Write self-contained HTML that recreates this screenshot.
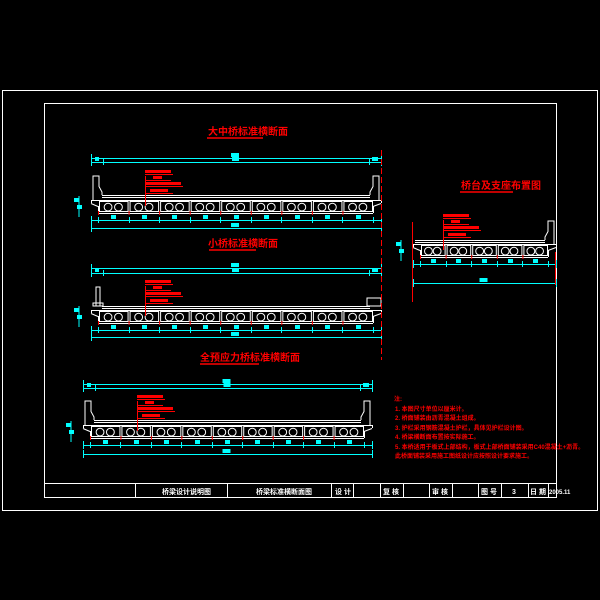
<!DOCTYPE html>
<html><head><meta charset="utf-8"><style>
html,body{margin:0;padding:0;background:#000;width:600px;height:600px;overflow:hidden}
svg{display:block}
text{font-family:"Liberation Sans","Noto Sans CJK SC",sans-serif;font-weight:bold}
</style></head><body>
<svg id="s" width="600" height="600" viewBox="0 0 600 600" xmlns="http://www.w3.org/2000/svg">
<rect width="600" height="600" fill="#000"/>
<g fill="none" stroke="#fff" stroke-width="1">
<rect x="2.5" y="90.5" width="595" height="420"/>
<rect x="44.5" y="103.5" width="512" height="394"/>
<line x1="44" y1="483.5" x2="556" y2="483.5"/>
<line x1="135.5" y1="483" x2="135.5" y2="497"/>
<line x1="227.5" y1="483" x2="227.5" y2="497"/>
<line x1="331.5" y1="483" x2="331.5" y2="497"/>
<line x1="353.5" y1="483" x2="353.5" y2="497"/>
<line x1="380.5" y1="483" x2="380.5" y2="497"/>
<line x1="403.5" y1="483" x2="403.5" y2="497"/>
<line x1="429.5" y1="483" x2="429.5" y2="497"/>
<line x1="452.5" y1="483" x2="452.5" y2="497"/>
<line x1="478.5" y1="483" x2="478.5" y2="497"/>
<line x1="501.5" y1="483" x2="501.5" y2="497"/>
<line x1="528.5" y1="483" x2="528.5" y2="497"/>
<line x1="548.5" y1="483" x2="548.5" y2="497"/>
</g>
<g fill="#fff" font-size="7">
<text x="162" y="494">桥梁设计说明图</text>
<text x="256" y="494">桥梁标准横断面图</text>
<text x="335" y="494">设 计</text>
<text x="383" y="494">复 核</text>
<text x="432" y="494">审 核</text>
<text x="481" y="494">图 号</text>
<text x="512" y="494">3</text>
<text x="530" y="494">日 期</text>
<text x="549" y="494" font-size="6">2005.11</text>
</g>
<g id="g"></g>
<g fill="#f00" font-size="9">
<text x="208" y="135" font-size="10">大中桥标准横断面</text>
<text x="208" y="247" font-size="10">小桥标准横断面</text>
<text x="200" y="361" font-size="10">全预应力桥标准横断面</text>
<text x="461" y="189" font-size="10">桥台及支座布置图</text>
</g>
<g stroke="#f00" stroke-width="1.5">
<line x1="207" y1="138" x2="263" y2="138"/>
<line x1="209" y1="250" x2="256" y2="250"/>
<line x1="200" y1="364" x2="259" y2="364"/>
<line x1="460" y1="192" x2="513" y2="192"/>
</g>
<g stroke="#f00" stroke-width="1">
<line x1="381.5" y1="150" x2="381.5" y2="360" stroke-dasharray="6,3"/>
<line x1="412.5" y1="222" x2="412.5" y2="302"/>
<line x1="555.5" y1="252" x2="555.5" y2="285"/>
</g>
<g fill="#f00" font-size="6">
<text x="394" y="401">注:</text>
<text x="395" y="411">1. 本图尺寸单位以厘米计。</text>
<text x="395" y="420">2. 桥面铺装由沥青混凝土组成。</text>
<text x="395" y="430">3. 护栏采用钢筋混凝土护栏，具体见护栏设计图。</text>
<text x="395" y="439">4. 桥梁横断面布置按实际施工。</text>
<text x="395" y="449">5. 本桥适用于板式上部结构，板式上部桥面铺装采用C40混凝土+沥青。</text>
<text x="395" y="458">此桥面铺装采用施工图纸设计应按照设计要求施工。</text>
</g>
</svg>
<script>
var g=document.getElementById('g'),NS='http://www.w3.org/2000/svg';
function el(t,a){var e=document.createElementNS(NS,t);for(var k in a)e.setAttribute(k,a[k]);g.appendChild(e);return e;}
function L(x1,y1,x2,y2,c,w){el('line',{x1:x1,y1:y1,x2:x2,y2:y2,stroke:c,'stroke-width':w||1});}
function R(x,y,w,h,c){el('rect',{x:x,y:y,width:w,height:h,fill:c});}
function dim(x0,x1,y,ticks,labels){
 L(x0,y+.5,x1,y+.5,'#0ff');
 L(x0+.5,y-4,x0+.5,y+4,'#0ff');L(x1+.5,y-4,x1+.5,y+4,'#0ff');
 (ticks||[]).forEach(function(t){L(t+.5,y-3,t+.5,y+3,'#0ff');});
 (labels||[]).forEach(function(l){R(l[0],y-5,l[1]||6,4,'#0ff');});
}
function sec(o){
 var x0=o.x0,x1=o.x1,yD=o.yD,yG=o.yG,yB=o.yB,n=o.n;
 var gx0=x0+7,gx1=x1-8,w=(gx1-gx0)/n,h=yB-yG;
 var pl=o.lp?x0+11:x0+2,pr=o.rp?x1-11:x1-2;
 L(pl,yD+.5,pr,yD+.5,'#fff');L(pl,yD+2.5,pr,yD+2.5,'#fff');
 L(x0,yG+.5,x1,yG+.5,'#fff');
 L(x0+.5,yG,x0+.5,yG+3,'#fff');L(x1+.5,yG,x1+.5,yG+3,'#fff');
 L(x0,yG+3.5,gx0,yG+6.5,'#fff');L(x1,yG+3.5,gx1,yG+6.5,'#fff');
 L(gx0+.5,yG+6,gx0+.5,yB,'#fff');L(gx1+.5,yG+6,gx1+.5,yB,'#fff');
 L(gx0,yB+.5,gx1,yB+.5,'#fff');
 for(var i=0;i<n;i++){
  var bx=gx0+i*w;
  el('rect',{x:bx+1.5,y:yG+1.5,width:w-2,height:h-3,fill:'none',stroke:'#fff','stroke-width':1});
  var r=h*0.3;
  el('circle',{cx:bx+w*0.33,cy:yG+h*0.55,r:r,fill:'none',stroke:'#fff'});
  el('circle',{cx:bx+w*0.67,cy:yG+h*0.55,r:r,fill:'none',stroke:'#fff'});
  L(bx+.5,yB-2,bx+.5,yB+2,'#f00');
 }
 var pt=o.yPT;
 if(o.lp==1) el('polyline',{points:[x0+2,yG,x0+2,pt,x0+8,pt,x0+8,pt+(yD-pt)*.55,x0+11,yD-3,x0+11,yD].join(' '),fill:'none',stroke:'#fff'});
 if(o.rp==1) el('polyline',{points:[x1-2,yG,x1-2,pt,x1-8,pt,x1-8,pt+(yD-pt)*.55,x1-11,yD-3,x1-11,yD].join(' '),fill:'none',stroke:'#fff'});
 if(o.lp==2){el('polyline',{points:[x0+5,yD,x0+5,pt,x0+9,pt,x0+9,yD].join(' '),fill:'none',stroke:'#fff'});el('rect',{x:x0+2,y:yD-3,width:10,height:3,fill:'none',stroke:'#fff'});}
 if(o.rp==2) el('rect',{x:x1-14,y:yD-8,width:14,height:8,fill:'none',stroke:'#fff'});
 var tk=[];for(i=0;i<=n;i++)tk.push(Math.round(gx0+i*w));
 var lb=[];for(i=0;i<n;i++)lb.push([Math.round(gx0+i*w+w/2-2),5]);
 if(o.d1!=null)dim(x0,x1,o.d1,[],[[ (x0+x1)/2-5,8]]);
 if(o.d2!=null)dim(x0,x1,o.d2,[x0+12,x1-12],[[x0+4,4],[(x0+x1)/2-4,7],[x1-9,6]]);
 dim(x0,x1,yB+7,tk,lb);
 if(o.d4!=null)dim(x0,x1,o.d4,[],[[(x0+x1)/2-5,8]]);
 L(x0-12,yG-4,x0-12,yB+4,'#0ff');R(x0-17,yG-2,5,4,'#0ff');R(x0-14,yG+5,5,4,'#0ff');
 var lx=o.lx;
 L(lx+.5,yG-24,lx+.5,yG+6,'#f00');
 R(lx,yG-30,26,3,'#f00');L(lx,yG-25.5,lx+28,yG-25.5,'#f00');
 R(lx+8,yG-24,9,3,'#f00');L(lx,yG-19.5,lx+26,yG-19.5,'#f00');
 R(lx,yG-18,36,3,'#f00');L(lx,yG-13.5,lx+38,yG-13.5,'#f00');
 R(lx+5,yG-11,18,3,'#f00');L(lx,yG-6.5,lx+28,yG-6.5,'#f00');
}
sec({x0:91,x1:381,yPT:176,yD:195,yG:200,yB:213,n:9,d1:158,d2:162,d4:228,lp:1,rp:1,lx:145});
sec({x0:91,x1:381,yPT:287,yD:306,yG:310,yB:323,n:9,d1:268,d2:273,d4:337,lp:2,rp:2,lx:145});
sec({x0:83,x1:372,yPT:401,yD:420,yG:425,yB:438,n:9,d1:384,d2:388,d4:454,lp:1,rp:1,lx:137});
sec({x0:413,x1:556,yPT:221,yD:240,yG:244,yB:257,n:5,d1:null,d2:null,d4:283,lp:0,rp:1,lx:443});
</script>
</body></html>
